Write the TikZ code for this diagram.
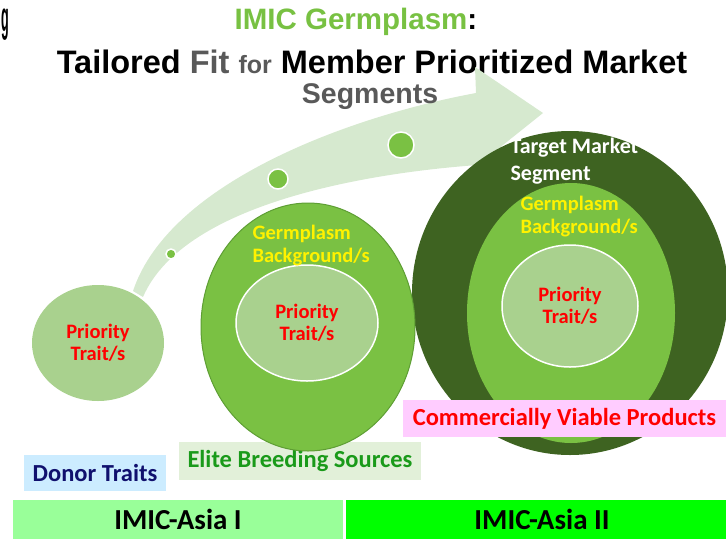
\documentclass[tikz,border=0pt]{standalone}
\usepackage{fontspec}
\setmainfont{Liberation Sans}
\newfontfamily\calfont{Carlito}
\usetikzlibrary{shapes.geometric}
\definecolor{lgreen}{HTML}{A9D18E}
\definecolor{mgreen}{HTML}{7AC143}
\definecolor{mborder}{HTML}{5E9E34}
\definecolor{dgreen}{HTML}{3E6321}
\definecolor{band}{HTML}{D6E9CF}
\definecolor{tgreen}{HTML}{78C142}
\definecolor{tgray}{HTML}{595959}
\definecolor{elitebox}{HTML}{E2F0D9}
\definecolor{elitetxt}{HTML}{1A9A1A}
\definecolor{donorbox}{HTML}{CCECFF}
\definecolor{donortxt}{HTML}{10106E}
\definecolor{pinkbox}{HTML}{FFCCFF}
\definecolor{asiaone}{HTML}{99FF99}
\definecolor{asiatwo}{HTML}{00FF00}
\tikzset{
  blob/.style={ellipse, inner sep=0pt, align=center},
  dot/.style={circle, inner sep=0pt, fill=mgreen, draw=white, line width=1.5pt},
  prio/.style={text=red, font=\calfont\bfseries\fontsize{20.5}{22.5}\selectfont, align=center},
  germ/.style={text=yellow, font=\calfont\bfseries\fontsize{20.5}{23}\selectfont, align=left, anchor=west},
  labelbox/.style={font=\calfont\bfseries\fontsize{24.5}{27}\selectfont, inner sep=0pt},
  bar/.style={font=\calfont\bfseries\fontsize{29}{31}\selectfont, text=black, inner sep=0pt}
}
\begin{document}
\begin{tikzpicture}[x=1pt,y=-1pt]
\useasboundingbox (0,0) rectangle (726,539);
% fragment at top left
\node[anchor=base west, inner sep=0pt, font=\bfseries\fontsize{42}{42}\selectfont] (gfrag) at (1.5,31) {\scalebox{0.3}[1]{g}};
% title
\node[inner sep=0pt, font=\bfseries\fontsize{29.5}{32}\selectfont] (t1) at (356,22) {\textcolor{tgreen}{IMIC Germplasm}:};
\node[inner sep=0pt, font=\bfseries\fontsize{32.5}{34}\selectfont] (t2) at (372,62) {Tailored \textcolor{tgray}{Fit {\fontsize{25}{26}\selectfont for}} Member Prioritized Market};
% arrow band
\fill[band] (133,291) .. controls (170,180) and (356,115) .. (476,93) -- (475,67) -- (543,113) -- (478,165) .. controls (380,172) and (185,200) .. (143,297) -- cycle;
\node[inner sep=0pt, text=tgray, font=\bfseries\fontsize{28.5}{30}\selectfont] (t3) at (370,97) {Segments};
% dots on band
\node[dot, minimum size=10pt] (d1) at (171,254) {};
\node[dot, minimum size=20pt] (d2) at (278,179) {};
\node[dot, minimum size=26pt] (d3) at (401,145) {};
% boxes under circles
\node[labelbox, fill=elitebox, minimum width=242pt, minimum height=38pt, text=elitetxt] (elite) at (300,461) {Elite Breeding Sources};
\node[labelbox, fill=donorbox, minimum width=142pt, minimum height=36pt, text=donortxt] (donor) at (95,473) {Donor Traits};
% left circle
\node[blob, fill=lgreen, minimum width=132pt, minimum height=116pt, prio] (lc) at (98,343) {Priority\\Trait/s};
% right big circle
\node[blob, fill=dgreen, minimum width=316pt, minimum height=324pt] (rc) at (570,293) {};
\node[blob, fill=mgreen, minimum width=208pt, minimum height=260pt] (rm) at (571,313) {};
\node[blob, fill=lgreen, draw=white, line width=1.5pt, minimum width=136pt, minimum height=122pt, prio] (ri) at (570,306) {Priority\\Trait/s};
\node[germ, text=white, font=\calfont\bfseries\fontsize{22}{27}\selectfont] (tms) at (507,161) {Target Market\\Segment};
\node[germ] (rg) at (517,217) {Germplasm\\Background/s};
% middle ellipse
\node[blob, fill=mgreen, draw=mborder, line width=1pt, minimum width=214pt, minimum height=248pt] (mc) at (308,327) {};
\node[blob, fill=lgreen, draw=white, line width=1.5pt, minimum width=142pt, minimum height=116pt, prio] (mi) at (307,323) {Priority\\Trait/s};
\node[germ] (mg) at (249,246) {Germplasm\\Background/s};
% commercial box
\node[labelbox, fill=pinkbox, minimum width=323pt, minimum height=37pt, text=red] (comm) at (564.5,418.5) {Commercially Viable Products};
% bottom bars
\node[bar, fill=asiaone, minimum width=330pt, minimum height=39pt] (asia1) at (178,519.5) {IMIC-Asia I};
\node[bar, fill=asiatwo, minimum width=392pt, minimum height=39pt] (asia2) at (542,519.5) {IMIC-Asia II};
\end{tikzpicture}
\end{document}
